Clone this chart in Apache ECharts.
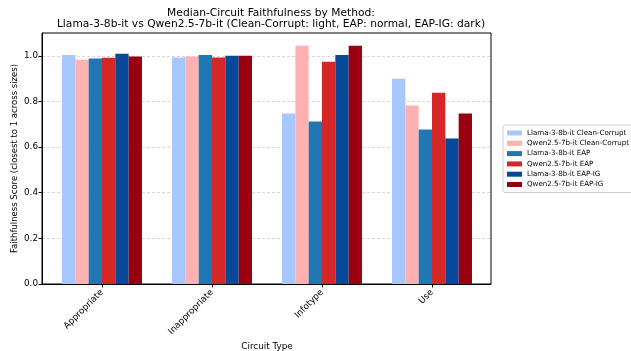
<!DOCTYPE html>
<html><head><meta charset="utf-8">
<script src="https://cdn.jsdelivr.net/npm/echarts@6/dist/echarts.min.js"></script>
<style>html,body{margin:0;padding:0;background:#fff}#c{width:631px;height:351px}</style>
</head><body><div id="c"></div>
<script>
const categories = ['Appropriate', 'Inappropriate', 'Infotype', 'Use'];
const llamaCleanCorrupt = [1.004, 0.993, 0.747, 0.900];
const qwenCleanCorrupt  = [0.983, 0.997, 1.044, 0.782];
const llamaEAP          = [0.988, 1.004, 0.712, 0.677];
const qwenEAP           = [0.991, 0.993, 0.974, 0.838];
const llamaEAPIG        = [1.009, 1.000, 1.004, 0.638];
const qwenEAPIG         = [0.997, 1.000, 1.044, 0.747];
const seriesNames = ['Llama-3-8b-it Clean-Corrupt', 'Qwen2.5-7b-it Clean-Corrupt', 'Llama-3-8b-it EAP', 'Qwen2.5-7b-it EAP', 'Llama-3-8b-it EAP-IG', 'Qwen2.5-7b-it EAP-IG'];
const seriesData = [llamaCleanCorrupt, qwenCleanCorrupt, llamaEAP, qwenEAP, llamaEAPIG, qwenEAPIG];
const colors = ['#a6c8ff', '#ffb1b1', '#1f77b4', '#d62728', '#08489a', '#990010'];

const font = 'DejaVu Sans';
const chart = echarts.init(document.getElementById('c'), null, {renderer: 'canvas'});
chart.setOption({
  animation: false,
  textStyle: {fontFamily: font},
  title: {
    text: 'Median-Circuit Faithfulness by Method:\nLlama-3-8b-it vs Qwen2.5-7b-it (Clean-Corrupt: light, EAP: normal, EAP-IG: dark)',
    left: 266, top: 3, textAlign: 'center',
    textStyle: {fontFamily: font, fontSize: 10.7, fontWeight: 'normal', color: '#000', lineHeight: 11}
  },
  legend: {
    data: seriesNames, orient: 'vertical', left: 503, top: 125,
    padding: [4, 4, 4, 4], itemGap: 2.3, itemWidth: 15, itemHeight: 5,
    icon: 'rect', borderColor: '#d0d0d0', borderWidth: 1, borderRadius: 2,
    textStyle: {fontFamily: font, fontSize: 7.1, color: '#000', lineHeight: 8, padding: [0,0,0,0]}
  },
  grid: [
    {left: 42, right: 140, top: 33, bottom: 67, show: true, borderColor: '#000', borderWidth: 1, containLabel: false, outerBoundsMode: 'none'},
    {left: 47, right: 144, top: 33, bottom: 67, containLabel: false, outerBoundsMode: 'none'}
  ],
  xAxis: [
    {gridIndex: 0, type: 'value', min: 0, max: 1, position: 'bottom',
     axisLine: {show: true, onZero: false, lineStyle: {color: '#000', width: 1}},
     axisTick: {show: false}, axisLabel: {show: false}, splitLine: {show: false}},
    {gridIndex: 1, type: 'category', data: categories,
     axisLine: {show: false},
     axisTick: {show: true, alignWithLabel: true, length: 3.5, lineStyle: {color: '#000'}},
     axisLabel: {rotate: 45, fontSize: 8.8, color: '#000', margin: 7, fontFamily: font},
     name: 'Circuit Type', nameLocation: 'middle', nameGap: 58, nameMoveOverlap: false,
     nameTextStyle: {fontSize: 8.8, color: '#000', fontFamily: font}}
  ],
  yAxis: [
    {gridIndex: 0, type: 'value', min: 0, max: 1.1, interval: 0.2,
     axisLine: {show: true, lineStyle: {color: '#000'}},
     axisTick: {show: true, length: 3.5, lineStyle: {color: '#000'}},
     axisLabel: {fontSize: 8.8, color: '#000', margin: 4, showMaxLabel: false, fontFamily: font,
                 formatter: v => v.toFixed(1)},
     splitLine: {show: true, showMinLine: false, showMaxLine: false, lineStyle: {color: '#cccccc', type: [3, 2], width: 0.8}},
     name: 'Faithfulness Score (closest to 1 across sizes)', nameLocation: 'middle', nameGap: 23, nameMoveOverlap: false,
     nameTextStyle: {fontSize: 8.5, color: '#000', fontFamily: font}},
    {gridIndex: 1, type: 'value', min: 0, max: 1.1, show: false, splitLine: {show: false}}
  ],
  series: seriesNames.map((n, i) => ({
    name: n, type: 'bar', xAxisIndex: 1, yAxisIndex: 1,
    data: seriesData[i], barWidth: 13.33, barGap: '0%',
    itemStyle: {color: colors[i]}
  }))
});
</script></body></html>
